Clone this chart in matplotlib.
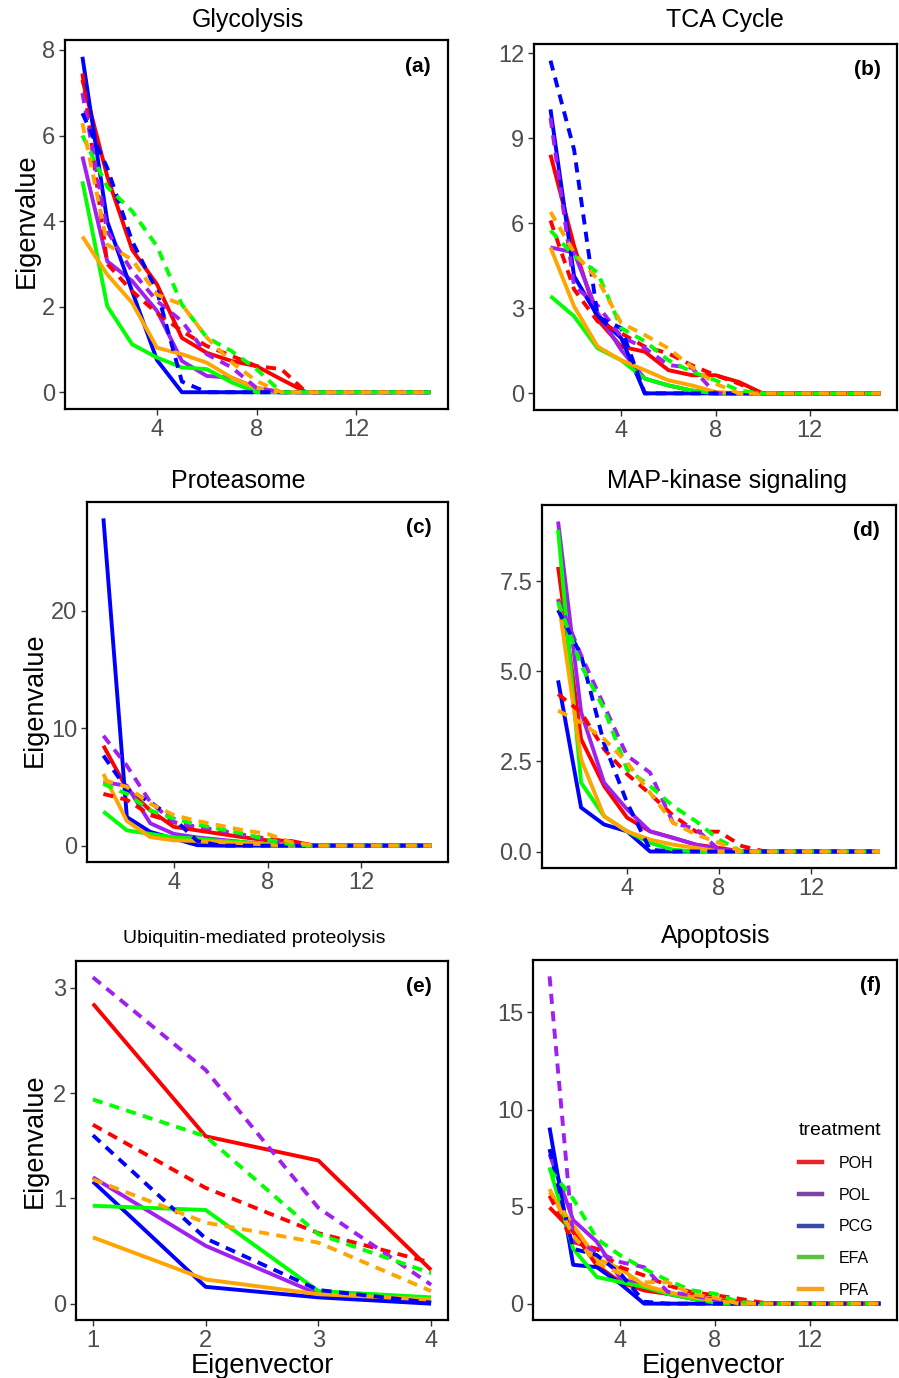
import matplotlib
matplotlib.use("Agg")
import matplotlib.pyplot as plt
from matplotlib.lines import Line2D

plt.rcParams['font.family'] = ['Liberation Sans', 'DejaVu Sans']

# treatments, colours and the eigenvector index
treatments = ['POH', 'POL', 'PCG', 'EFA', 'PFA']
line_colors = ['#ff0000', '#a020f0', '#0000ff', '#00ff00', '#ffa500']
key_colors = ['#e8242b', '#7c44a8', '#3c4aa8', '#5ac242', '#f7a11c']
eig_x = list(range(1, 16))
eig_x_short = [1, 2, 3, 4]

# eigenvalues, one row per treatment (POH, POL, PCG, EFA, PFA)
glyco_solid = [
    [7.30, 5.04, 3.33, 2.52, 1.27, 0.92, 0.73, 0.61, 0.30, 0, 0, 0, 0, 0, 0],
    [5.51, 3.06, 2.60, 1.90, 0.73, 0.38, 0.34, 0.10, 0, 0, 0, 0, 0, 0, 0],
    [7.84, 3.99, 2.36, 0.75, 0, 0, 0, 0, 0, 0, 0, 0, 0, 0, 0],
    [4.93, 2.01, 1.12, 0.81, 0.58, 0.54, 0.23, 0, 0, 0, 0, 0, 0, 0, 0],
    [3.64, 2.75, 2.09, 1.04, 0.89, 0.69, 0.34, 0.10, 0, 0, 0, 0, 0, 0, 0],
]
glyco_dashed = [
    [7.45, 3.00, 2.36, 1.85, 1.43, 1.08, 0.85, 0.61, 0.54, 0, 0, 0, 0, 0, 0],
    [6.99, 3.76, 2.83, 2.13, 1.66, 0.89, 0.58, 0.10, 0, 0, 0, 0, 0, 0, 0],
    [6.52, 5.24, 3.53, 2.36, 0.25, 0, 0, 0, 0, 0, 0, 0, 0, 0, 0],
    [6.00, 4.80, 4.23, 3.41, 2.05, 1.28, 0.96, 0.54, 0, 0, 0, 0, 0, 0, 0],
    [6.29, 3.45, 3.10, 2.28, 2.05, 1.28, 0.70, 0.26, 0, 0, 0, 0, 0, 0, 0],
]
tca_solid = [
    [8.42, 5.20, 2.60, 1.65, 1.47, 0.82, 0.64, 0.64, 0.40, 0, 0, 0, 0, 0, 0],
    [5.15, 4.97, 2.84, 1.53, 0.52, 0.28, 0.10, 0, 0, 0, 0, 0, 0, 0, 0],
    [10.02, 4.14, 2.72, 1.95, 0, 0, 0, 0, 0, 0, 0, 0, 0, 0, 0],
    [3.43, 2.72, 1.59, 1.17, 0.52, 0.28, 0.10, 0, 0, 0, 0, 0, 0, 0, 0],
    [5.15, 3.07, 1.65, 1.17, 0.82, 0.46, 0.28, 0.05, 0, 0, 0, 0, 0, 0, 0],
]
tca_dashed = [
    [6.10, 3.67, 2.54, 2.12, 1.65, 1.41, 0.99, 0.64, 0.34, 0, 0, 0, 0, 0, 0],
    [9.72, 3.79, 3.10, 2.00, 1.60, 1.00, 0.90, 0, 0, 0, 0, 0, 0, 0, 0],
    [11.74, 8.60, 2.70, 2.30, 0, 0, 0, 0, 0, 0, 0, 0, 0, 0, 0],
    [5.75, 4.85, 4.26, 2.30, 1.84, 1.17, 0.76, 0.46, 0.10, 0, 0, 0, 0, 0, 0],
    [6.40, 4.97, 4.02, 2.48, 2.06, 1.59, 0.93, 0.34, 0, 0, 0, 0, 0, 0, 0],
]
prot_solid = [
    [8.50, 4.84, 3.00, 1.60, 1.30, 1.00, 0.70, 0.45, 0.40, 0, 0, 0, 0, 0, 0],
    [5.40, 5.10, 1.90, 1.00, 0.70, 0.50, 0.30, 0.10, 0, 0, 0, 0, 0, 0, 0],
    [27.85, 2.43, 1.17, 0.60, 0.04, 0, 0, 0, 0, 0, 0, 0, 0, 0, 0],
    [2.90, 1.30, 1.00, 0.70, 0.60, 0.40, 0.30, 0.10, 0, 0, 0, 0, 0, 0, 0],
    [6.10, 2.10, 0.73, 0.45, 0.40, 0.30, 0.20, 0.10, 0, 0, 0, 0, 0, 0, 0],
]
prot_dashed = [
    [4.40, 3.90, 2.60, 2.00, 1.50, 1.20, 0.90, 0.60, 0.30, 0, 0, 0, 0, 0, 0],
    [9.35, 6.80, 3.70, 2.00, 1.60, 1.30, 0.90, 0.50, 0.10, 0, 0, 0, 0, 0, 0],
    [7.66, 4.80, 3.70, 2.30, 0.40, 0, 0, 0, 0, 0, 0, 0, 0, 0, 0],
    [5.25, 4.40, 3.00, 2.30, 1.80, 1.40, 1.00, 0.50, 0.10, 0, 0, 0, 0, 0, 0],
    [5.60, 5.00, 3.56, 2.60, 2.10, 1.70, 1.30, 1.00, 0.30, 0, 0, 0, 0, 0, 0],
]
mapk_solid = [
    [7.90, 3.12, 1.82, 0.94, 0.56, 0.38, 0.19, 0.10, 0, 0, 0, 0, 0, 0, 0],
    [9.16, 3.87, 1.91, 1.17, 0.56, 0.38, 0.19, 0.05, 0, 0, 0, 0, 0, 0, 0],
    [4.75, 1.22, 0.75, 0.56, 0, 0, 0, 0, 0, 0, 0, 0, 0, 0, 0],
    [8.93, 1.91, 0.98, 0.56, 0.24, 0.05, 0, 0, 0, 0, 0, 0, 0, 0, 0],
    [7.02, 2.56, 0.98, 0.56, 0.33, 0.19, 0.10, 0, 0, 0, 0, 0, 0, 0, 0],
]
mapk_dashed = [
    [4.37, 3.86, 2.84, 2.15, 1.60, 1.00, 0.55, 0.55, 0.15, 0, 0, 0, 0, 0, 0],
    [7.00, 5.45, 4.05, 2.66, 2.19, 0.80, 0.62, 0.05, 0, 0, 0, 0, 0, 0, 0],
    [6.70, 5.45, 3.00, 1.36, 0.05, 0, 0, 0, 0, 0, 0, 0, 0, 0, 0],
    [6.93, 5.17, 3.96, 2.28, 1.82, 1.26, 0.84, 0.33, 0, 0, 0, 0, 0, 0, 0],
    [3.91, 3.58, 3.12, 2.47, 1.63, 0.80, 0.47, 0.24, 0, 0, 0, 0, 0, 0, 0],
]
ubiq_solid = [
    [2.85, 1.59, 1.36, 0.32],
    [1.20, 0.55, 0.09, 0.02],
    [1.16, 0.16, 0.06, 0.00],
    [0.93, 0.89, 0.12, 0.06],
    [0.63, 0.23, 0.09, 0.04],
]
ubiq_dashed = [
    [1.70, 1.10, 0.67, 0.39],
    [3.10, 2.22, 0.91, 0.18],
    [1.60, 0.62, 0.13, 0.01],
    [1.94, 1.59, 0.66, 0.29],
    [1.18, 0.77, 0.58, 0.12],
]
apop_solid = [
    [4.96, 3.70, 1.97, 1.11, 0.68, 0.50, 0.40, 0.20, 0.10, 0, 0, 0, 0, 0, 0],
    [7.70, 4.30, 3.19, 1.28, 0.94, 0.50, 0.26, 0.05, 0, 0, 0, 0, 0, 0, 0],
    [9.07, 2.00, 1.88, 1.02, 0, 0, 0, 0, 0, 0, 0, 0, 0, 0, 0],
    [7.02, 2.83, 1.37, 1.11, 0.86, 0.51, 0.26, 0.05, 0, 0, 0, 0, 0, 0, 0],
    [5.74, 4.03, 2.31, 1.80, 0.94, 0.60, 0.35, 0.15, 0, 0, 0, 0, 0, 0, 0],
]
apop_dashed = [
    [5.56, 3.17, 2.82, 1.88, 1.45, 0.94, 0.60, 0.43, 0.26, 0.05, 0, 0, 0, 0, 0],
    [16.86, 3.30, 2.65, 2.14, 1.88, 0.61, 0.43, 0.20, 0, 0, 0, 0, 0, 0, 0],
    [7.96, 2.83, 2.50, 1.54, 0.10, 0, 0, 0, 0, 0, 0, 0, 0, 0, 0],
    [6.93, 5.40, 3.34, 2.48, 1.80, 1.20, 0.69, 0.51, 0.09, 0, 0, 0, 0, 0, 0],
    [5.90, 3.50, 2.10, 1.55, 1.10, 1.10, 0.50, 0.30, 0, 0, 0, 0, 0, 0, 0],
]

W, H = 899, 1378
fig = plt.figure(figsize=(W / 100, H / 100), dpi=100)


def make_axes(x0, y0, x1, y1):
    # pixel box (left, top, right, bottom) -> figure fraction
    return fig.add_axes([x0 / W, 1 - y1 / H, (x1 - x0) / W, (y1 - y0) / H])


def draw_panel(ax, xs, solid, dashed, title, tag, yticks, xticks, ylabels=None,
               title_size=18, title_x=0.5, title_pad=9):
    for vals, col in zip(solid, line_colors):
        ax.plot(xs, vals, color=col, lw=2.8, solid_capstyle='butt', zorder=2)
    for vals, col in zip(dashed, line_colors):
        ax.plot(xs, vals, color=col, lw=2.8, linestyle=(0, (2.6, 1.9)),
                dash_capstyle='butt', zorder=3)
    xr = xs[-1] - xs[0]
    ax.set_xlim(xs[0] - 0.05 * xr, xs[-1] + 0.05 * xr)
    ymax = max(max(v) for v in solid + dashed)
    ax.set_ylim(-0.05 * ymax, 1.05 * ymax)
    ax.set_xticks(xticks)
    ax.set_yticks(yticks)
    if ylabels is not None:
        ax.set_yticklabels(ylabels)
    ax.tick_params(labelsize=17, labelcolor='#4d4d4d', color='#333333',
                   length=4, width=1, pad=3)
    for s in ax.spines.values():
        s.set_linewidth(1.6)
        s.set_color('black')
    ax.set_title(title, fontsize=title_size, x=title_x, pad=title_pad)
    ax.text(0.955, 0.955, tag, transform=ax.transAxes, ha='right', va='top',
            fontsize=15, fontweight='bold')


ax_a = make_axes(65, 40, 448, 409)
draw_panel(ax_a, eig_x, glyco_solid, glyco_dashed, 'Glycolysis', '(a)',
           [0, 2, 4, 6, 8], [4, 8, 12], title_x=0.478, title_pad=9.5)
ax_a.set_ylabel('Eigenvalue', fontsize=19.5, labelpad=2, y=0.51)

ax_b = make_axes(534, 44, 897, 410)
draw_panel(ax_b, eig_x, tca_solid, tca_dashed, 'TCA Cycle', '(b)',
           [0, 3, 6, 9, 12], [4, 8, 12], title_x=0.526, title_pad=12)

ax_c = make_axes(87, 502, 448, 862)
draw_panel(ax_c, eig_x, prot_solid, prot_dashed, 'Proteasome', '(c)',
           [0, 10, 20], [4, 8, 12], title_x=0.418, title_pad=10)
ax_c.set_ylabel('Eigenvalue', fontsize=19.5, labelpad=2, y=0.45)

ax_d = make_axes(542, 505, 896, 868)
draw_panel(ax_d, eig_x, mapk_solid, mapk_dashed, 'MAP-kinase signaling', '(d)',
           [0, 2.5, 5.0, 7.5], [4, 8, 12],
           ylabels=['0.0', '2.5', '5.0', '7.5'], title_x=0.523, title_pad=12)

ax_e = make_axes(76, 961, 448, 1320)
draw_panel(ax_e, eig_x_short, ubiq_solid, ubiq_dashed,
           'Ubiquitin-mediated proteolysis', '(e)', [0, 1, 2, 3], [1, 2, 3, 4],
           title_size=14, title_x=0.478, title_pad=13)
ax_e.set_ylabel('Eigenvalue', fontsize=19.5, labelpad=4)
ax_e.set_xlabel('Eigenvector', fontsize=19.5, labelpad=1)

ax_f = make_axes(533, 960, 897, 1320)
draw_panel(ax_f, eig_x, apop_solid, apop_dashed, 'Apoptosis', '(f)',
           [0, 5, 10, 15], [4, 8, 12], title_x=0.503, title_pad=12)
ax_f.set_xlabel('Eigenvector', fontsize=19.5, labelpad=1, x=0.495)

handles = [Line2D([0], [0], color=c, lw=3.2) for c in key_colors]
leg = ax_f.legend(handles, treatments, title='treatment', loc='upper left',
                  bbox_to_anchor=(0.69, 0.59), frameon=False, fontsize=11.5,
                  title_fontsize=14, handlelength=1.5, labelspacing=1.05,
                  handletextpad=1.0)
leg._legend_box.align = 'left'

fig.savefig('out.png', dpi=100)
